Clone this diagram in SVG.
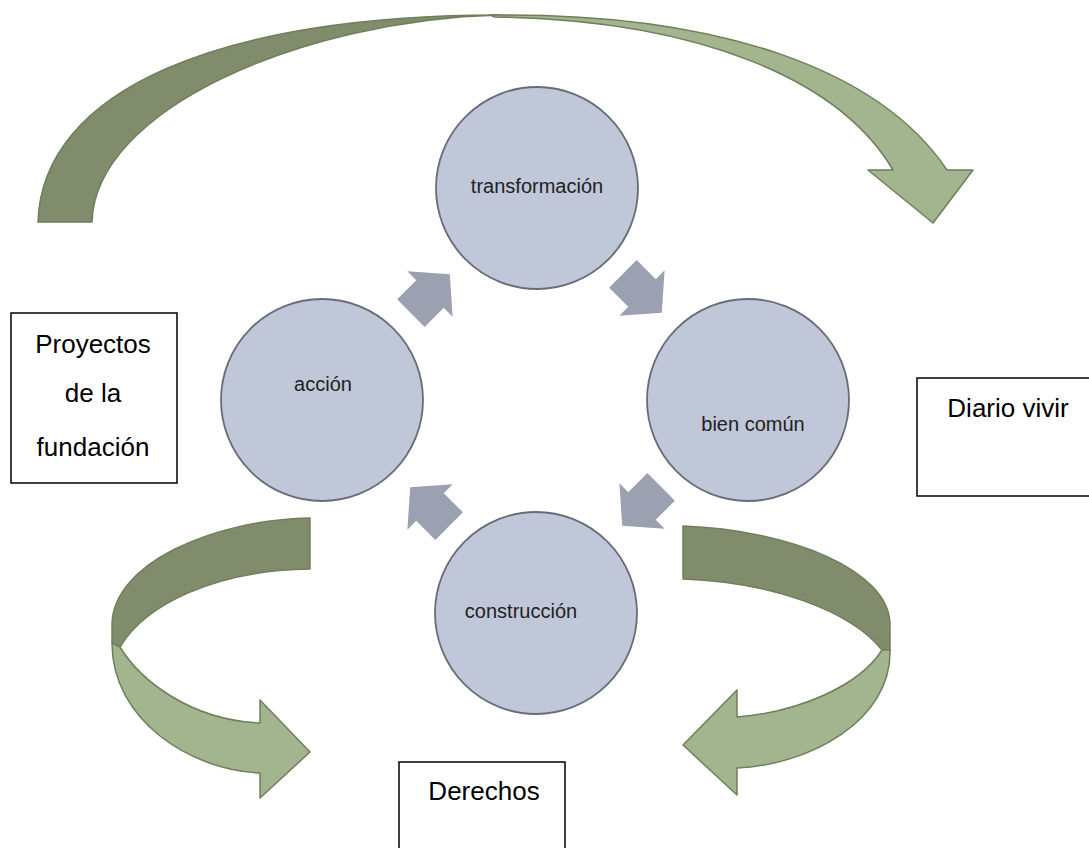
<svg xmlns="http://www.w3.org/2000/svg" width="1089" height="848" viewBox="0 0 1089 848">
<style>
.dark{fill:#808c6c;stroke:#6f7e5b;stroke-width:1.5;stroke-linejoin:round}
.light{fill:#a3b58f;stroke:#6f7e5b;stroke-width:1.5;stroke-linejoin:round}
.circ{fill:#c0c7d9;stroke:#686c76;stroke-width:1.8}
.clab{font-family:"Liberation Sans",Arial,sans-serif;font-size:20px;fill:#222;text-anchor:middle}
.box{fill:#fff;stroke:#000;stroke-width:1.5}
.blab{font-family:"Liberation Sans",Arial,sans-serif;font-size:26px;fill:#000;text-anchor:middle}
.small{fill:#9ca1b2}
</style>
<defs>
<path id="sa" d="M28,0 L0,32 L0,19.5 L-27,19.5 L-27,-19.5 L0,-19.5 L0,-32 Z"/>
</defs>
<rect width="1089" height="848" fill="#fff"/>
<g id="connectors">
<g id="arrow-top">
<path class="dark" d="M38,222 C42,90 220,15 500,15 C300,20 95,110 92,222 Z"/>
<path class="light" d="M490,15 C720,12 880,70 947,170 L973,170 L933,223 L868,170 L893,170 C840,80 700,20 495,17 Z"/>
</g>
<g id="arrow-bottom-left">
<path class="dark" d="M310,518 C210,520 112,565 112,625 L112,643 L120,647 C145,605 215,570 310,569 Z"/>
<path class="light" d="M112,643 C112,720 190,770 260,773 L260,798 L310,752 L260,700 L260,723 C190,720 140,680 120,647 Z"/>
</g>
<g id="arrow-bottom-right">
<path class="dark" d="M683,526 C790,530 890,570 890,625 L890,650 L882,650 C850,610 770,582 683,579 Z"/>
<path class="light" d="M890,650 C892,720 810,765 737,768 L737,795 L683,745 L737,690 L737,717 C800,712 860,685 882,650 Z"/>
</g>
<use class="small" href="#sa" transform="translate(430,294) rotate(-45)"/>
<use class="small" href="#sa" transform="translate(642,293) rotate(45)"/>
<use class="small" href="#sa" transform="translate(642,506) rotate(135)"/>
<use class="small" href="#sa" transform="translate(430,507) rotate(-135)"/>
</g>
<g id="node-transformacion">
<circle class="circ" cx="537" cy="188" r="101"/>
<text class="clab" x="537" y="193">transformación</text>
</g>
<g id="node-bien-comun">
<circle class="circ" cx="748" cy="400" r="101"/>
<text class="clab" x="753" y="431">bien común</text>
</g>
<g id="node-construccion">
<circle class="circ" cx="536" cy="613" r="101"/>
<text class="clab" x="521" y="618">construcción</text>
</g>
<g id="node-accion">
<circle class="circ" cx="322" cy="400" r="101"/>
<text class="clab" x="323" y="391">acción</text>
</g>
<g id="box-proyectos">
<rect class="box" x="11" y="313" width="166" height="170"/>
<text class="blab" x="93" y="353">Proyectos</text>
<text class="blab" x="93" y="402">de la</text>
<text class="blab" x="93" y="456">fundación</text>
</g>
<g id="box-diario">
<rect class="box" x="917" y="378" width="180" height="118"/>
<text class="blab" x="1008" y="417">Diario vivir</text>
</g>
<g id="box-derechos">
<rect class="box" x="399" y="762" width="166" height="100"/>
<text class="blab" x="484" y="800">Derechos</text>
</g>
</svg>
